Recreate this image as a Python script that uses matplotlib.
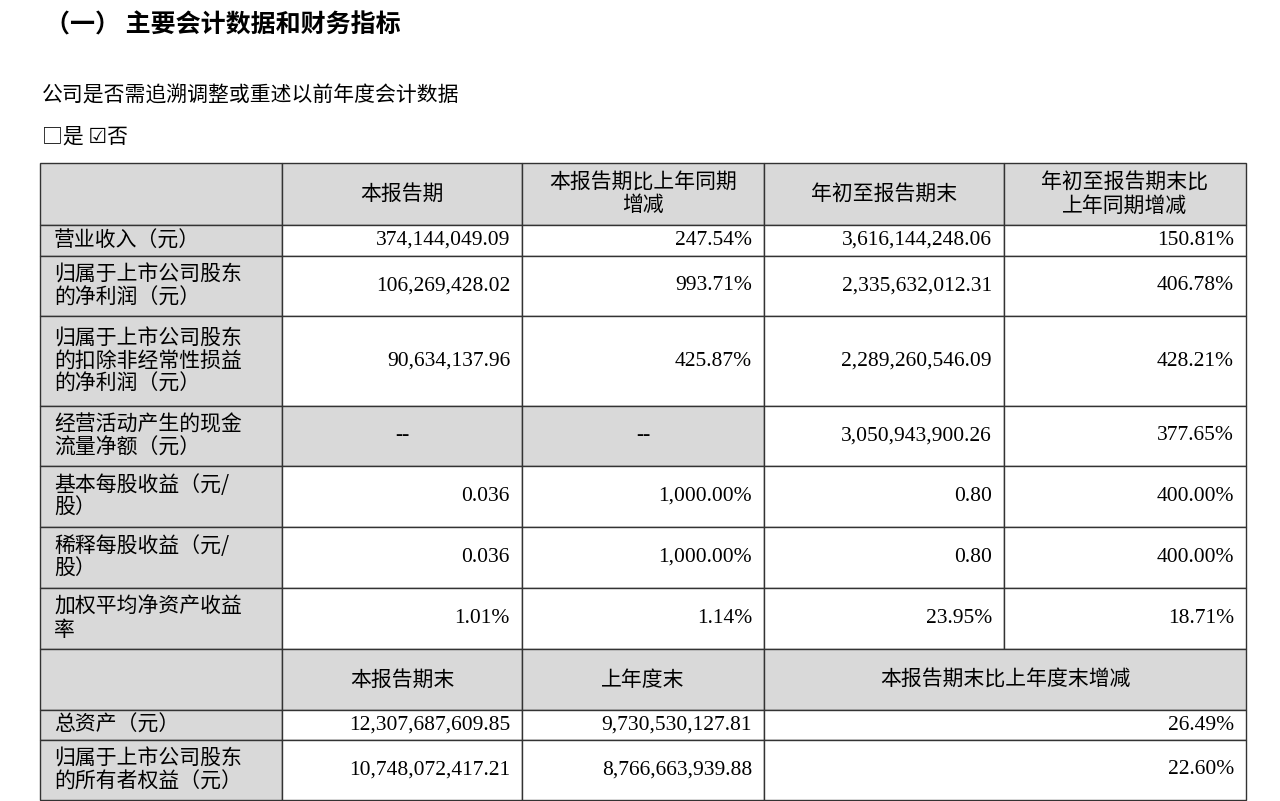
import matplotlib.pyplot as plt
from matplotlib.patches import Rectangle

CJK = ["Noto Sans CJK SC", "DejaVu Sans"]
NUM = ["Liberation Serif", "Noto Sans CJK SC", "DejaVu Sans"]
GREY = "#d9d9d9"

title = "（一） 主要会计数据和财务指标"
question = "公司是否需追溯调整或重述以前年度会计数据"
answer = "□是 ☑否"

header1 = ["本报告期", "本报告期比上年同期\n增减", "年初至报告期末", "年初至报告期末比\n上年同期增减"]
labels1 = [
    "营业收入（元）",
    "归属于上市公司股东\n的净利润（元）",
    "归属于上市公司股东\n的扣除非经常性损益\n的净利润（元）",
    "经营活动产生的现金\n流量净额（元）",
    "基本每股收益（元/\n股）",
    "稀释每股收益（元/\n股）",
    "加权平均净资产收益\n率",
]
current = ["374,144,049.09", "106,269,428.02", "90,634,137.96", "--", "0.036", "0.036", "1.01%"]
current_chg = ["247.54%", "993.71%", "425.87%", "--", "1,000.00%", "1,000.00%", "1.14%"]
ytd = ["3,616,144,248.06", "2,335,632,012.31", "2,289,260,546.09", "3,050,943,900.26", "0.80", "0.80", "23.95%"]
ytd_chg = ["150.81%", "406.78%", "428.21%", "377.65%", "400.00%", "400.00%", "18.71%"]

header2 = ["本报告期末", "上年度末", "本报告期末比上年度末增减"]
labels2 = ["总资产（元）", "归属于上市公司股东\n的所有者权益（元）"]
period_end = ["12,307,687,609.85", "10,748,072,417.21"]
last_year_end = ["9,730,530,127.81", "8,766,663,939.88"]
end_chg = ["26.49%", "22.60%"]

# layout (pixels)
cols = [40, 282, 522, 764, 1004, 1246]
rows = [163, 225, 256, 316, 406, 466, 527, 588, 649, 710, 740, 800]
FS = 15
NFS = 15.5
LS = 1.05


def cell(ax, x0, x1, y0, y1, fill=None):
    ax.add_patch(Rectangle((x0, y0), x1 - x0, y1 - y0, facecolor=fill or "white",
                           edgecolor="#333333", linewidth=1.0))


def main() -> None:
    fig = plt.figure(figsize=(12.8, 8.01), dpi=100)
    ax = fig.add_axes([0, 0, 1, 1])
    ax.set_xlim(0, 1280)
    ax.set_ylim(801, 0)
    ax.axis("off")

    ax.text(45, 25, title, family=CJK, fontsize=18, fontweight="bold", va="center")
    ax.text(42, 96, question, family=CJK, fontsize=FS, va="center")
    ax.text(42, 137, answer, family=CJK, fontsize=FS, va="center")

    # header 1
    for c in range(5):
        cell(ax, cols[c], cols[c + 1], rows[0], rows[1], GREY)
    for c, h in enumerate(header1):
        ax.text((cols[c + 1] + cols[c + 2]) / 2, (rows[0] + rows[1]) / 2, h,
                family=CJK, fontsize=FS, ha="center", va="center", linespacing=LS)

    # body 1
    for r, lab in enumerate(labels1):
        y0, y1 = rows[r + 1], rows[r + 2]
        ym = (y0 + y1) / 2
        values = [current[r], current_chg[r], ytd[r], ytd_chg[r]]
        cell(ax, cols[0], cols[1], y0, y1, GREY)
        ax.text(cols[0] + 14, ym, lab, family=CJK, fontsize=FS, va="center", linespacing=LS)
        for c, v in enumerate(values):
            dash = v == "--"
            cell(ax, cols[c + 1], cols[c + 2], y0, y1, GREY if dash else None)
            if dash:
                ax.text((cols[c + 1] + cols[c + 2]) / 2, ym, v, family=NUM, fontsize=NFS,
                        ha="center", va="center")
            else:
                ax.text(cols[c + 2] - 12, ym, v, family=NUM, fontsize=NFS, ha="right", va="center")

    # header 2
    y0, y1 = rows[8], rows[9]
    cell(ax, cols[0], cols[1], y0, y1, GREY)
    cell(ax, cols[1], cols[2], y0, y1, GREY)
    cell(ax, cols[2], cols[3], y0, y1, GREY)
    cell(ax, cols[3], cols[5], y0, y1, GREY)
    ax.text((cols[1] + cols[2]) / 2, (y0 + y1) / 2, header2[0], family=CJK, fontsize=FS, ha="center", va="center")
    ax.text((cols[2] + cols[3]) / 2, (y0 + y1) / 2, header2[1], family=CJK, fontsize=FS, ha="center", va="center")
    ax.text((cols[3] + cols[5]) / 2, (y0 + y1) / 2, header2[2], family=CJK, fontsize=FS, ha="center", va="center")

    # body 2
    for r, lab in enumerate(labels2):
        y0, y1 = rows[r + 9], rows[r + 10]
        ym = (y0 + y1) / 2
        cell(ax, cols[0], cols[1], y0, y1, GREY)
        cell(ax, cols[1], cols[2], y0, y1)
        cell(ax, cols[2], cols[3], y0, y1)
        cell(ax, cols[3], cols[5], y0, y1)
        ax.text(cols[0] + 14, ym, lab, family=CJK, fontsize=FS, va="center", linespacing=LS)
        ax.text(cols[2] - 12, ym, period_end[r], family=NUM, fontsize=NFS, ha="right", va="center")
        ax.text(cols[3] - 12, ym, last_year_end[r], family=NUM, fontsize=NFS, ha="right", va="center")
        ax.text(cols[5] - 12, ym, end_chg[r], family=NUM, fontsize=NFS, ha="right", va="center")

    fig.savefig("out.png", dpi=100, facecolor="white")
    plt.close(fig)


if __name__ == "__main__":
    main()
